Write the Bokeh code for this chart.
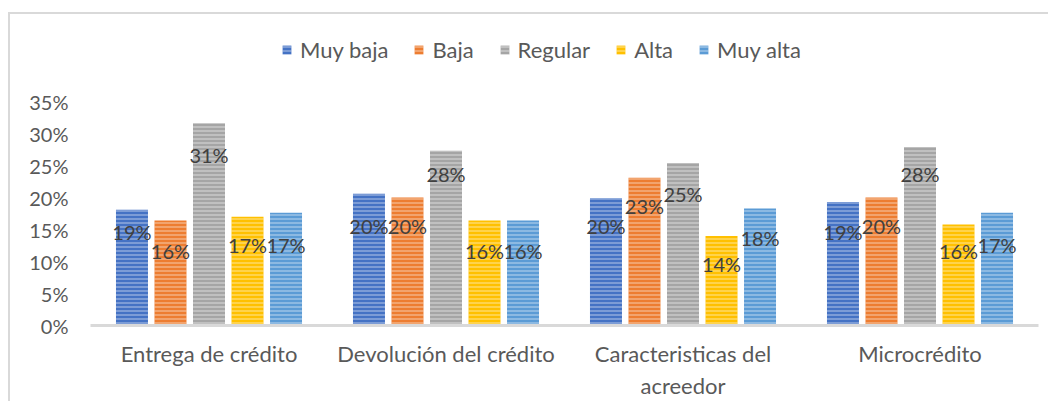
from bokeh.plotting import figure
from bokeh.models import (ColumnDataSource, FactorRange, Range1d, Legend, LegendItem,
                          FixedTicker, PrintfTickFormatter)
from bokeh.transform import dodge
from bokeh.core.properties import value
from bokeh.embed import file_html
from bokeh.resources import INLINE

categories = ["Entrega de crédito", "Devolución del crédito",
              "Caracteristicas del\nacreedor", "Microcrédito"]
series = ["Muy baja", "Baja", "Regular", "Alta", "Muy alta"]
colors = ["#4472C4", "#ED7D31", "#A5A5A5", "#FFC000", "#5B9BD5"]

# bar heights (%) as drawn
muy_baja = [18.1, 20.6, 19.9, 19.3]
baja = [16.4, 20.0, 23.1, 20.0]
regular = [31.6, 27.3, 25.4, 27.9]
alta = [17.0, 16.4, 14.0, 15.8]
muy_alta = [17.6, 16.4, 18.3, 17.6]

# data labels (%) as printed
lab_muy_baja = [19, 20, 20, 19]
lab_baja = [16, 20, 23, 20]
lab_regular = [31, 28, 25, 28]
lab_alta = [17, 16, 14, 16]
lab_muy_alta = [17, 16, 18, 17]

y_ticks = [0, 5, 10, 15, 20, 25, 30, 35]

heights = [muy_baja, baja, regular, alta, muy_alta]
labels = [lab_muy_baja, lab_baja, lab_regular, lab_alta, lab_muy_alta]
offsets = [-0.325, -0.1625, 0.0, 0.1625, 0.325]

# frame extends above 35% to leave room for the legend (6.4 px per %)
FRAME_H = 304
p = figure(x_range=FactorRange(*categories, range_padding=0),
           y_range=Range1d(0, FRAME_H / 6.4),
           frame_width=948, frame_height=FRAME_H,
           min_border_left=90, min_border_right=10,
           min_border_top=21, min_border_bottom=75,
           output_backend="svg", toolbar_location=None, tools="")

p.styles = {
    "background-image": "linear-gradient(#d9d9d9,#d9d9d9), linear-gradient(#d9d9d9,#d9d9d9)",
    "background-size": "100% 2px, 2px 100%",
    "background-position": "8px 12px, 8px 12px",
    "background-repeat": "no-repeat",
}
p.border_fill_alpha = 0
p.background_fill_alpha = 0
p.outline_line_color = None
p.xgrid.grid_line_color = None
p.ygrid.grid_line_color = None

renderers = []
for name, h, lab, off, col in zip(series, heights, labels, offsets, colors):
    src = ColumnDataSource(dict(cat=categories, h=h, lab=lab,
                                txt=[f"{v}%" for v in lab]))
    r = p.vbar(x=dodge("cat", off, range=p.x_range), top="h", bottom=0, width=0.135,
               source=src, fill_color=col, line_color=None,
               hatch_pattern="horizontal_line", hatch_color="white",
               hatch_alpha=0.5, hatch_scale=4, hatch_weight=1.2)
    renderers.append(r)
    p.text(x=dodge("cat", off, range=p.x_range), y="lab", text="txt", source=src,
           text_align="center", text_baseline="middle", y_offset=28,
           text_font=value("Lato"), text_font_size="20px", text_color="#404040")

legend = Legend(items=[LegendItem(label=s, renderers=[r]) for s, r in zip(series, renderers)],
                orientation="horizontal", location=(191, FRAME_H - 42),
                glyph_width=11, glyph_height=11, label_standoff=8, spacing=25,
                padding=0, margin=0, border_line_alpha=0, background_fill_alpha=0,
                label_text_font="Lato", label_text_font_size="22px",
                label_text_color="#595959")
p.add_layout(legend)

xa = p.xaxis[0]
xa.axis_line_color = "#d9d9d9"
xa.axis_line_width = 3
xa.major_tick_line_color = None
xa.minor_tick_line_color = None
xa.major_tick_out = 0
xa.major_tick_in = 0
xa.major_label_standoff = 14
xa.major_label_text_font = "Lato"
xa.major_label_text_font_size = "22px"
xa.major_label_text_color = "#595959"

ya = p.yaxis[0]
ya.axis_line_color = None
ya.major_tick_line_color = None
ya.minor_tick_line_color = None
ya.major_tick_out = 0
ya.major_tick_in = 0
ya.major_label_standoff = 22
ya.ticker = FixedTicker(ticks=y_ticks)
ya.formatter = PrintfTickFormatter(format="%d%%")
ya.major_label_text_font = "Lato"
ya.major_label_text_font_size = "20px"
ya.major_label_text_color = "#595959"

open("out.html", "w").write(file_html(p, INLINE))
